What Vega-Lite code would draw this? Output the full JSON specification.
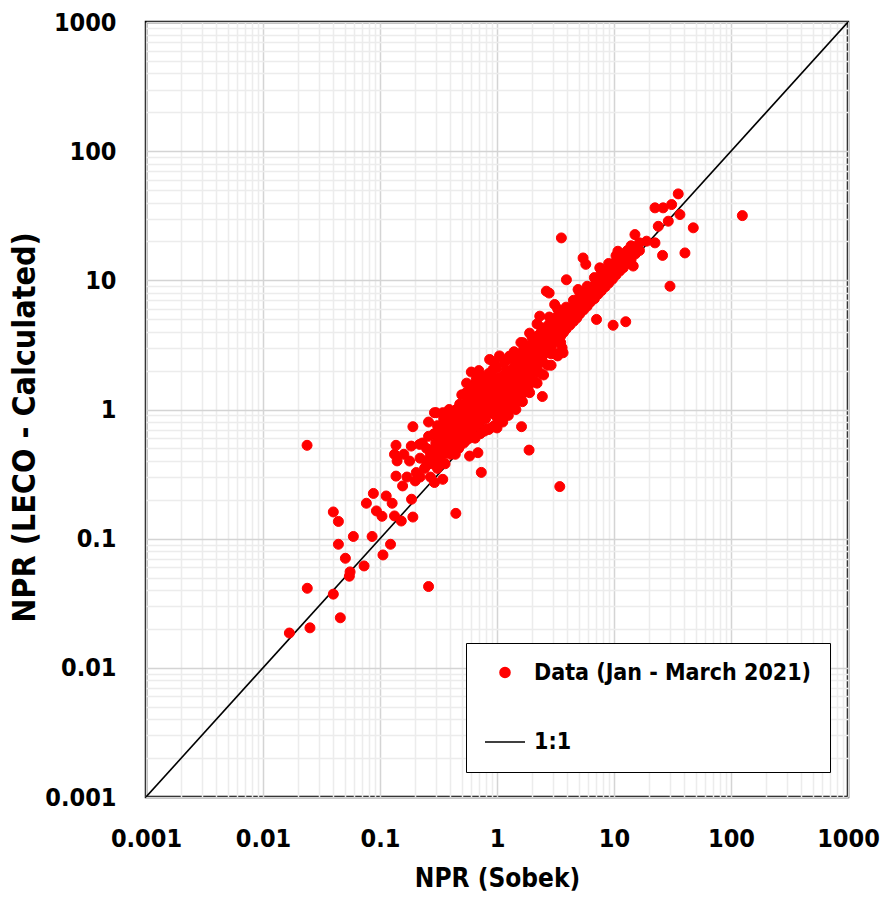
{
  "$schema": "https://vega.github.io/schema/vega-lite/v6.json",
  "width": 702,
  "height": 775,
  "autosize": {"type": "none"},
  "padding": {"left": 146, "top": 22, "right": 38, "bottom": 106},
  "background": "white",
  "datasets": {
    "oneone": [{"sobek": 0.001, "leco": 0.001}, {"sobek": 1000, "leco": 1000}],
    "obs": [
      {"sobek":0.0168,"leco":0.0186},{"sobek":0.0238,"leco":0.528},{"sobek":0.0239,"leco":0.0413},{"sobek":0.0252,"leco":0.0204},{"sobek":0.0458,"leco":0.0244},{"sobek":0.0399,"leco":0.0372},{"sobek":0.0547,"leco":0.0512},{"sobek":0.0555,"leco":0.0553},{"sobek":0.0731,"leco":0.0615},{"sobek":0.0506,"leco":0.0705},{"sobek":0.0441,"leco":0.0905},{"sobek":0.0592,"leco":0.104},{"sobek":0.0856,"leco":0.104},{"sobek":0.106,"leco":0.0748},{"sobek":0.123,"leco":0.0905},{"sobek":0.0399,"leco":0.161},{"sobek":0.0441,"leco":0.136},{"sobek":0.0765,"leco":0.188},{"sobek":0.0878,"leco":0.224},{"sobek":0.0932,"leco":0.164},{"sobek":0.104,"leco":0.149},{"sobek":0.113,"leco":0.214},{"sobek":0.127,"leco":0.188},{"sobek":0.133,"leco":0.15},{"sobek":0.152,"leco":0.137},{"sobek":0.191,"leco":0.147},{"sobek":0.186,"leco":0.202},{"sobek":0.26,"leco":0.0426},{"sobek":0.445,"leco":0.157},{"sobek":0.734,"leco":0.326},{"sobek":0.191,"leco":0.736},{"sobek":0.137,"leco":0.528},{"sobek":0.133,"leco":0.45},{"sobek":0.179,"leco":0.399},{"sobek":0.218,"leco":0.537},{"sobek":0.185,"leco":0.521},{"sobek":0.137,"leco":0.305},{"sobek":0.156,"leco":0.256},{"sobek":0.204,"leco":0.325},{"sobek":0.248,"leco":0.365},{"sobek":0.292,"leco":0.272},{"sobek":0.344,"leco":0.288},{"sobek":0.323,"leco":0.491},{"sobek":0.283,"leco":0.436},{"sobek":0.302,"leco":0.945},{"sobek":0.323,"leco":0.744},{"sobek":0.368,"leco":0.662},{"sobek":0.42,"leco":0.587},{"sobek":0.479,"leco":0.521},{"sobek":0.583,"leco":0.436},{"sobek":0.687,"leco":0.463},{"sobek":0.546,"leco":1.35},{"sobek":0.665,"leco":1.71},{"sobek":0.479,"leco":0.839},{"sobek":0.618,"leco":0.95},{"sobek":0.81,"leco":0.702},{"sobek":0.923,"leco":0.95},{"sobek":1.62,"leco":0.736},{"sobek":1.88,"leco":0.485},{"sobek":3.44,"leco":0.253},{"sobek":2.44,"leco":1.26},{"sobek":0.865,"leco":2.44},{"sobek":0.603,"leco":1.95},{"sobek":0.687,"leco":1.71},{"sobek":0.923,"leco":2.04},{"sobek":3.67,"leco":2.75},{"sobek":7.09,"leco":4.98},{"sobek":0.292,"leco":0.945},{"sobek":0.344,"leco":0.945},{"sobek":1.51,"leco":1.16},{"sobek":3.55,"leco":21.3},{"sobek":125,"leco":31.7},{"sobek":35.4,"leco":46.7},{"sobek":22.4,"leco":36.4},{"sobek":26.3,"leco":36.4},{"sobek":31.1,"leco":38.6},{"sobek":36.6,"leco":32.3},{"sobek":29.1,"leco":28.7},{"sobek":23.9,"leco":26.2},{"sobek":47.6,"leco":25.5},{"sobek":26.0,"leco":15.6},{"sobek":40.4,"leco":16.3},{"sobek":30.1,"leco":9.0},{"sobek":22.4,"leco":19.5},{"sobek":19.0,"leco":20.1},{"sobek":15.1,"leco":22.6},{"sobek":10.8,"leco":16.8},{"sobek":14.6,"leco":12.9},{"sobek":5.44,"leco":14.9},{"sobek":5.74,"leco":13.3},{"sobek":3.92,"leco":10.1},{"sobek":2.64,"leco":8.24},{"sobek":2.79,"leco":7.97},{"sobek":9.83,"leco":4.49},{"sobek":12.6,"leco":4.78},{"sobek":4.93,"leco":8.49},{"sobek":7.56,"leco":12.5},{"sobek":3.11,"leco":6.5},{"sobek":2.32,"leco":5.28},{"sobek":1.67,"leco":3.29},{"sobek":1.28,"leco":2.59},
      {"sobek":0.22,"leco":0.42},{"sobek":0.24,"leco":0.35},{"sobek":0.25,"leco":0.5},{"sobek":0.26,"leco":0.62},{"sobek":0.27,"leco":0.45},{"sobek":0.28,"leco":0.38},{"sobek":0.3,"leco":0.55},{"sobek":0.31,"leco":0.42},{"sobek":0.32,"leco":0.6},{"sobek":0.33,"leco":0.7},{"sobek":0.35,"leco":0.85},{"sobek":0.37,"leco":0.5},{"sobek":0.39,"leco":1.0},
      {"sobek":0.14,"leco":0.4},{"sobek":0.16,"leco":0.45},{"sobek":0.17,"leco":0.3},{"sobek":0.2,"leco":0.28},{"sobek":0.22,"leco":0.3},{"sobek":0.23,"leco":0.55},{"sobek":0.25,"leco":0.4},{"sobek":0.27,"leco":0.3},{"sobek":0.29,"leco":0.5},{"sobek":0.31,"leco":0.35},{"sobek":0.33,"leco":0.4},{"sobek":0.36,"leco":0.38},{"sobek":0.34,"leco":0.55},{"sobek":0.29,"leco":0.65},{"sobek":0.26,"leco":0.8},{"sobek":0.31,"leco":0.75},{"sobek":0.36,"leco":0.6},{"sobek":0.4,"leco":0.45},{"sobek":0.42,"leco":0.5},{"sobek":0.44,"leco":0.45},{"sobek":0.47,"leco":0.5},{"sobek":0.52,"leco":0.55},{"sobek":0.55,"leco":0.58},{"sobek":0.58,"leco":0.6},{"sobek":0.62,"leco":0.62},
      {"sobek":0.65,"leco":0.6},{"sobek":0.72,"leco":0.65},{"sobek":0.78,"leco":0.68},{"sobek":0.88,"leco":0.72},{"sobek":1.0,"leco":0.72},{"sobek":1.12,"leco":0.8},{"sobek":1.25,"leco":0.9},{"sobek":1.45,"leco":1.0},{"sobek":1.65,"leco":1.15},{"sobek":1.9,"leco":1.35},{"sobek":2.2,"leco":1.6},{"sobek":2.5,"leco":1.85},{"sobek":2.9,"leco":2.2},{"sobek":3.3,"leco":2.6},
      {"sobek":0.5,"leco":1.3},{"sobek":0.55,"leco":1.6},{"sobek":0.65,"leco":1.55},{"sobek":0.7,"leco":2.0},{"sobek":0.8,"leco":1.75},{"sobek":0.95,"leco":2.3},{"sobek":1.05,"leco":2.6},{"sobek":1.2,"leco":2.4},{"sobek":1.4,"leco":2.8},{"sobek":1.6,"leco":3.3},{"sobek":1.9,"leco":3.9},{"sobek":2.2,"leco":4.6},
      {"sobek":0.35,"leco":0.55},{"sobek":0.35,"leco":0.7},{"sobek":0.35,"leco":0.45},
      {"sobek":0.38,"leco":0.62},{"sobek":0.38,"leco":0.8},{"sobek":0.38,"leco":0.5},
      {"sobek":0.4,"leco":0.58},{"sobek":0.4,"leco":0.72},{"sobek":0.4,"leco":0.9},{"sobek":0.4,"leco":0.65},
      {"sobek":0.43,"leco":0.6},{"sobek":0.43,"leco":0.75},{"sobek":0.43,"leco":0.95},{"sobek":0.43,"leco":0.55},
      {"sobek":0.45,"leco":0.7},{"sobek":0.45,"leco":0.85},{"sobek":0.45,"leco":0.62},{"sobek":0.45,"leco":1.0},
      {"sobek":0.48,"leco":0.66},{"sobek":0.48,"leco":0.8},{"sobek":0.48,"leco":0.92},{"sobek":0.48,"leco":0.58},{"sobek":0.48,"leco":1.1},
      {"sobek":0.5,"leco":0.7},{"sobek":0.5,"leco":0.78},{"sobek":0.5,"leco":0.88},{"sobek":0.5,"leco":1.0},{"sobek":0.5,"leco":0.62},
      {"sobek":0.53,"leco":0.72},{"sobek":0.53,"leco":0.85},{"sobek":0.53,"leco":0.95},{"sobek":0.53,"leco":1.05},{"sobek":0.53,"leco":0.65},
      {"sobek":0.56,"leco":0.75},{"sobek":0.56,"leco":0.9},{"sobek":0.56,"leco":1.0},{"sobek":0.56,"leco":1.15},{"sobek":0.56,"leco":0.68},
      {"sobek":0.6,"leco":0.75},{"sobek":0.6,"leco":0.85},{"sobek":0.6,"leco":0.95},{"sobek":0.6,"leco":1.05},{"sobek":0.6,"leco":1.2},{"sobek":0.6,"leco":0.68},{"sobek":0.6,"leco":1.5},
      {"sobek":0.63,"leco":0.8},{"sobek":0.63,"leco":0.9},{"sobek":0.63,"leco":1.0},{"sobek":0.63,"leco":1.1},{"sobek":0.63,"leco":1.3},
      {"sobek":0.66,"leco":0.82},{"sobek":0.66,"leco":0.95},{"sobek":0.66,"leco":1.05},{"sobek":0.66,"leco":1.15},{"sobek":0.66,"leco":0.75},
      {"sobek":0.7,"leco":0.85},{"sobek":0.7,"leco":0.95},{"sobek":0.7,"leco":1.05},{"sobek":0.7,"leco":1.2},{"sobek":0.7,"leco":1.35},{"sobek":0.7,"leco":0.78},
      {"sobek":0.73,"leco":0.9},{"sobek":0.73,"leco":1.0},{"sobek":0.73,"leco":1.1},{"sobek":0.73,"leco":1.25},{"sobek":0.73,"leco":0.82},
      {"sobek":0.75,"leco":1.8},
      {"sobek":0.76,"leco":0.92},{"sobek":0.76,"leco":1.02},{"sobek":0.76,"leco":1.15},{"sobek":0.76,"leco":1.3},{"sobek":0.76,"leco":1.5},
      {"sobek":0.8,"leco":0.9},{"sobek":0.8,"leco":1.0},{"sobek":0.8,"leco":1.1},{"sobek":0.8,"leco":1.2},{"sobek":0.8,"leco":1.4},{"sobek":0.8,"leco":0.85},
      {"sobek":0.83,"leco":0.95},{"sobek":0.83,"leco":1.05},{"sobek":0.83,"leco":1.15},{"sobek":0.83,"leco":1.3},{"sobek":0.83,"leco":1.6},
      {"sobek":0.85,"leco":0.7},{"sobek":0.85,"leco":1.9},
      {"sobek":0.86,"leco":0.98},{"sobek":0.86,"leco":1.1},{"sobek":0.86,"leco":1.2},{"sobek":0.86,"leco":1.35},
      {"sobek":0.9,"leco":0.95},{"sobek":0.9,"leco":1.05},{"sobek":0.9,"leco":1.15},{"sobek":0.9,"leco":1.25},{"sobek":0.9,"leco":1.45},{"sobek":0.9,"leco":1.7},
      {"sobek":0.94,"leco":1.0},{"sobek":0.94,"leco":1.1},{"sobek":0.94,"leco":1.2},{"sobek":0.94,"leco":1.35},{"sobek":0.94,"leco":1.55},
      {"sobek":0.95,"leco":0.75},
      {"sobek":0.97,"leco":1.05},{"sobek":0.97,"leco":1.15},{"sobek":0.97,"leco":1.3},{"sobek":0.97,"leco":1.45},{"sobek":0.97,"leco":0.9},
      {"sobek":1.0,"leco":1.0},{"sobek":1.0,"leco":1.1},{"sobek":1.0,"leco":1.2},{"sobek":1.0,"leco":1.35},{"sobek":1.0,"leco":1.5},{"sobek":1.0,"leco":1.75},{"sobek":1.0,"leco":2.1},
      {"sobek":1.02,"leco":0.8},
      {"sobek":1.05,"leco":1.1},{"sobek":1.05,"leco":1.2},{"sobek":1.05,"leco":1.3},{"sobek":1.05,"leco":1.45},{"sobek":1.05,"leco":1.65},
      {"sobek":1.08,"leco":0.85},
      {"sobek":1.1,"leco":1.15},{"sobek":1.1,"leco":1.25},{"sobek":1.1,"leco":1.4},{"sobek":1.1,"leco":1.55},{"sobek":1.1,"leco":1.8},{"sobek":1.1,"leco":1.0},
      {"sobek":1.15,"leco":1.2},{"sobek":1.15,"leco":1.35},{"sobek":1.15,"leco":1.5},{"sobek":1.15,"leco":1.7},{"sobek":1.15,"leco":1.1},{"sobek":1.15,"leco":2.3},
      {"sobek":1.18,"leco":0.95},
      {"sobek":1.2,"leco":1.25},{"sobek":1.2,"leco":1.4},{"sobek":1.2,"leco":1.55},{"sobek":1.2,"leco":1.75},{"sobek":1.2,"leco":2.0},{"sobek":1.2,"leco":1.15},
      {"sobek":1.25,"leco":1.3},{"sobek":1.25,"leco":1.45},{"sobek":1.25,"leco":1.65},{"sobek":1.25,"leco":1.85},
      {"sobek":1.28,"leco":1.0},
      {"sobek":1.3,"leco":1.35},{"sobek":1.3,"leco":1.5},{"sobek":1.3,"leco":1.7},{"sobek":1.3,"leco":1.95},{"sobek":1.3,"leco":1.2},{"sobek":1.3,"leco":2.5},
      {"sobek":1.36,"leco":1.45},{"sobek":1.36,"leco":1.6},{"sobek":1.36,"leco":1.8},{"sobek":1.36,"leco":2.05},
      {"sobek":1.4,"leco":1.1},
      {"sobek":1.42,"leco":1.5},{"sobek":1.42,"leco":1.7},{"sobek":1.42,"leco":1.9},{"sobek":1.42,"leco":2.2},{"sobek":1.42,"leco":1.35},
      {"sobek":1.5,"leco":1.6},{"sobek":1.5,"leco":1.8},{"sobek":1.5,"leco":2.0},{"sobek":1.5,"leco":2.3},{"sobek":1.5,"leco":1.45},{"sobek":1.5,"leco":2.7},
      {"sobek":1.55,"leco":1.25},
      {"sobek":1.57,"leco":1.7},{"sobek":1.57,"leco":1.9},{"sobek":1.57,"leco":2.1},{"sobek":1.57,"leco":2.45},
      {"sobek":1.65,"leco":1.75},{"sobek":1.65,"leco":2.0},{"sobek":1.65,"leco":2.25},{"sobek":1.65,"leco":2.6},{"sobek":1.65,"leco":1.6},
      {"sobek":1.7,"leco":1.35},{"sobek":1.7,"leco":3.0},
      {"sobek":1.73,"leco":1.85},{"sobek":1.73,"leco":2.1},{"sobek":1.73,"leco":2.4},{"sobek":1.73,"leco":2.75},
      {"sobek":1.82,"leco":1.95},{"sobek":1.82,"leco":2.2},{"sobek":1.82,"leco":2.5},{"sobek":1.82,"leco":2.9},{"sobek":1.82,"leco":1.75},
      {"sobek":1.85,"leco":1.5},
      {"sobek":1.9,"leco":2.05},{"sobek":1.9,"leco":2.35},{"sobek":1.9,"leco":2.65},{"sobek":1.9,"leco":3.1},
      {"sobek":2.0,"leco":2.1},{"sobek":2.0,"leco":2.4},{"sobek":2.0,"leco":2.75},{"sobek":2.0,"leco":3.2},{"sobek":2.0,"leco":1.9},{"sobek":2.0,"leco":3.6},
      {"sobek":2.05,"leco":1.65},
      {"sobek":2.1,"leco":2.25},{"sobek":2.1,"leco":2.55},{"sobek":2.1,"leco":2.9},{"sobek":2.1,"leco":3.4},
      {"sobek":2.2,"leco":2.3},{"sobek":2.2,"leco":2.65},{"sobek":2.2,"leco":3.0},{"sobek":2.2,"leco":3.6},{"sobek":2.2,"leco":2.1},
      {"sobek":2.3,"leco":2.45},{"sobek":2.3,"leco":2.8},{"sobek":2.3,"leco":3.2},{"sobek":2.3,"leco":3.8},
      {"sobek":2.35,"leco":1.9},{"sobek":2.4,"leco":4.3},
      {"sobek":2.45,"leco":2.6},{"sobek":2.45,"leco":2.95},{"sobek":2.45,"leco":3.35},{"sobek":2.45,"leco":4.0},{"sobek":2.45,"leco":2.35},
      {"sobek":2.6,"leco":2.75},{"sobek":2.6,"leco":3.1},{"sobek":2.6,"leco":3.55},{"sobek":2.6,"leco":4.2},
      {"sobek":2.7,"leco":2.2},
      {"sobek":2.75,"leco":2.9},{"sobek":2.75,"leco":3.3},{"sobek":2.75,"leco":3.75},{"sobek":2.75,"leco":4.5},
      {"sobek":2.8,"leco":5.2},
      {"sobek":2.9,"leco":3.05},{"sobek":2.9,"leco":3.5},{"sobek":2.9,"leco":4.0},{"sobek":2.9,"leco":4.8},{"sobek":2.9,"leco":2.7},
      {"sobek":3.1,"leco":3.3},{"sobek":3.1,"leco":3.7},{"sobek":3.1,"leco":4.2},{"sobek":3.1,"leco":5.0},
      {"sobek":3.2,"leco":2.7},
      {"sobek":3.3,"leco":3.5},{"sobek":3.3,"leco":3.95},{"sobek":3.3,"leco":4.5},{"sobek":3.3,"leco":5.3},{"sobek":3.3,"leco":6.0},
      {"sobek":3.5,"leco":3.7},{"sobek":3.5,"leco":4.2},{"sobek":3.5,"leco":4.8},{"sobek":3.5,"leco":5.6},{"sobek":3.5,"leco":3.3},
      {"sobek":3.6,"leco":3.0},
      {"sobek":3.7,"leco":3.95},{"sobek":3.7,"leco":4.5},{"sobek":3.7,"leco":5.1},
      {"sobek":3.9,"leco":4.2},{"sobek":3.9,"leco":4.75},{"sobek":3.9,"leco":5.4},{"sobek":3.9,"leco":6.2},
      {"sobek":4.2,"leco":4.5},{"sobek":4.2,"leco":5.1},{"sobek":4.2,"leco":5.8},
      {"sobek":4.5,"leco":4.8},{"sobek":4.5,"leco":5.4},{"sobek":4.5,"leco":6.2},{"sobek":4.5,"leco":7.0},
      {"sobek":4.8,"leco":5.1},{"sobek":4.8,"leco":5.8},{"sobek":4.8,"leco":6.6},
      {"sobek":5.1,"leco":5.5},{"sobek":5.1,"leco":6.2},{"sobek":5.1,"leco":7.1},{"sobek":5.1,"leco":8.0},
      {"sobek":5.5,"leco":5.9},{"sobek":5.5,"leco":6.7},{"sobek":5.5,"leco":7.6},
      {"sobek":5.9,"leco":6.3},{"sobek":5.9,"leco":7.1},{"sobek":5.9,"leco":8.1},{"sobek":5.9,"leco":9.0},
      {"sobek":6.3,"leco":6.8},{"sobek":6.3,"leco":7.6},{"sobek":6.3,"leco":8.6},
      {"sobek":6.8,"leco":7.2},{"sobek":6.8,"leco":8.1},{"sobek":6.8,"leco":9.2},{"sobek":6.8,"leco":10.5},
      {"sobek":7.3,"leco":7.8},{"sobek":7.3,"leco":8.8},{"sobek":7.3,"leco":9.8},
      {"sobek":7.8,"leco":8.3},{"sobek":7.8,"leco":9.3},{"sobek":7.8,"leco":10.5},{"sobek":7.8,"leco":11.8},
      {"sobek":8.4,"leco":8.9},{"sobek":8.4,"leco":10.0},{"sobek":8.4,"leco":11.3},
      {"sobek":9.0,"leco":9.5},{"sobek":9.0,"leco":10.6},{"sobek":9.0,"leco":12.0},{"sobek":9.0,"leco":13.5},
      {"sobek":9.7,"leco":10.2},{"sobek":9.7,"leco":11.5},{"sobek":9.7,"leco":13.0},
      {"sobek":10.4,"leco":11.0},{"sobek":10.4,"leco":12.3},{"sobek":10.4,"leco":14.0},{"sobek":10.4,"leco":15.5},
      {"sobek":11.2,"leco":11.8},{"sobek":11.2,"leco":13.2},{"sobek":11.2,"leco":15.0},
      {"sobek":12.0,"leco":12.5},{"sobek":12.0,"leco":14.2},{"sobek":12.0,"leco":16.0},
      {"sobek":13.0,"leco":13.5},{"sobek":13.0,"leco":15.2},{"sobek":13.0,"leco":17.0},
      {"sobek":14.0,"leco":14.5},{"sobek":14.0,"leco":16.5},{"sobek":14.0,"leco":18.5},
      {"sobek":15.2,"leco":16.0},{"sobek":15.2,"leco":18.0},
      {"sobek":16.5,"leco":17.0},{"sobek":16.5,"leco":19.5}
    ]
  },
  "layer": [
    {
      "data": {"name": "oneone"},
      "mark": {"type": "line", "color": "black", "strokeWidth": 1.6, "clip": true},
      "encoding": {
        "x": {
          "field": "sobek", "type": "quantitative",
          "scale": {"type": "log", "domain": [0.001, 1000], "nice": false},
          "axis": {
            "orient": "bottom",
            "values": [0.002,0.003,0.004,0.005,0.006,0.007,0.008,0.009,0.02,0.03,0.04,0.05,0.06,0.07,0.08,0.09,0.2,0.3,0.4,0.5,0.6,0.7,0.8,0.9,2,3,4,5,6,7,8,9,20,30,40,50,60,70,80,90,200,300,400,500,600,700,800,900],
            "labels": false, "ticks": false, "domain": false, "title": null,
            "grid": true, "gridColor": "#ececec", "gridWidth": 1.5
          }
        },
        "y": {
          "field": "leco", "type": "quantitative",
          "scale": {"type": "log", "domain": [0.001, 1000], "nice": false},
          "axis": {
            "orient": "left",
            "values": [0.002,0.003,0.004,0.005,0.006,0.007,0.008,0.009,0.02,0.03,0.04,0.05,0.06,0.07,0.08,0.09,0.2,0.3,0.4,0.5,0.6,0.7,0.8,0.9,2,3,4,5,6,7,8,9,20,30,40,50,60,70,80,90,200,300,400,500,600,700,800,900],
            "labels": false, "ticks": false, "domain": false, "title": null,
            "grid": true, "gridColor": "#ececec", "gridWidth": 1.5
          }
        }
      }
    },
    {
      "data": {"name": "obs"},
      "mark": {"type": "point", "filled": true, "opacity": 1, "strokeWidth": 1, "clip": true},
      "encoding": {
        "x": {
          "field": "sobek", "type": "quantitative",
          "axis": {
            "orient": "bottom",
            "values": [0.001, 0.01, 0.1, 1, 10, 100, 1000],
            "format": "~g",
            "title": "NPR (Sobek)",
            "grid": true, "gridColor": "#d4d4d4", "gridWidth": 1.5,
            "ticks": false, "domain": false,
            "labelFlush": false, "labelOverlap": false,
            "labelPadding": 29, "labelFontSize": 25, "labelFontWeight": "bold", "labelColor": "black",
            "titleFontSize": 26, "titleFontWeight": "bold", "titleColor": "black", "titlePadding": 14
          }
        },
        "y": {
          "field": "leco", "type": "quantitative",
          "axis": {
            "orient": "left",
            "values": [0.001, 0.01, 0.1, 1, 10, 100, 1000],
            "format": "~g",
            "title": "NPR (LECO - Calculated)",
            "grid": true, "gridColor": "#d4d4d4", "gridWidth": 1.5,
            "ticks": false, "domain": false,
            "labelFlush": false, "labelOverlap": false,
            "labelPadding": 30, "labelFontSize": 25, "labelFontWeight": "bold", "labelColor": "black",
            "titleFontSize": 32, "titleFontWeight": "bold", "titleColor": "black", "titlePadding": 3,
            "titleY": 405
          }
        },
        "color": {
          "datum": "Data (Jan - March 2021)", "type": "nominal",
          "scale": {"domain": ["Data (Jan - March 2021)", "1:1"], "range": ["#ff0000", "#000000"]},
          "legend": {
            "title": null, "orient": "none", "legendX": 320, "legendY": 621, "direction": "vertical",
            "fillColor": "white", "strokeColor": "black", "padding": 18, "rowPadding": 36, "labelOffset": 8,
            "symbolStrokeWidth": 1.6,
            "labelFontSize": 23, "labelFontWeight": "bold", "labelColor": "black", "labelLimit": 400
          }
        },
        "stroke": {
          "datum": "Data (Jan - March 2021)", "type": "nominal",
          "scale": {"domain": ["Data (Jan - March 2021)", "1:1"], "range": ["#ff0000", "#000000"]},
          "legend": {
            "title": null, "orient": "none", "legendX": 320, "legendY": 621, "direction": "vertical",
            "fillColor": "white", "strokeColor": "black", "padding": 18, "rowPadding": 36, "labelOffset": 8,
            "symbolStrokeWidth": 1.6,
            "labelFontSize": 23, "labelFontWeight": "bold", "labelColor": "black", "labelLimit": 400
          }
        },
        "shape": {
          "datum": "Data (Jan - March 2021)", "type": "nominal",
          "scale": {"domain": ["Data (Jan - March 2021)", "1:1"], "range": ["circle", "stroke"]},
          "legend": {
            "title": null, "orient": "none", "legendX": 320, "legendY": 621, "direction": "vertical",
            "fillColor": "white", "strokeColor": "black", "padding": 18, "rowPadding": 36, "labelOffset": 8,
            "symbolStrokeWidth": 1.6,
            "labelFontSize": 23, "labelFontWeight": "bold", "labelColor": "black", "labelLimit": 400
          }
        },
        "size": {
          "datum": "Data (Jan - March 2021)", "type": "nominal",
          "scale": {"type": "ordinal", "domain": ["Data (Jan - March 2021)", "1:1"], "range": [100, 1600]},
          "legend": {
            "title": null, "orient": "none", "legendX": 320, "legendY": 621, "direction": "vertical",
            "fillColor": "white", "strokeColor": "black", "padding": 18, "rowPadding": 36, "labelOffset": 8,
            "symbolStrokeWidth": 1.6,
            "labelFontSize": 23, "labelFontWeight": "bold", "labelColor": "black", "labelLimit": 400
          }
        }
      }
    }
  ],
  "resolve": {"axis": {"x": "independent", "y": "independent"}},
  "config": {
    "font": "'DejaVu Sans Condensed', 'Liberation Sans Narrow', 'DejaVu Sans', sans-serif",
    "view": {"stroke": "black", "strokeWidth": 2.5}
  }
}
